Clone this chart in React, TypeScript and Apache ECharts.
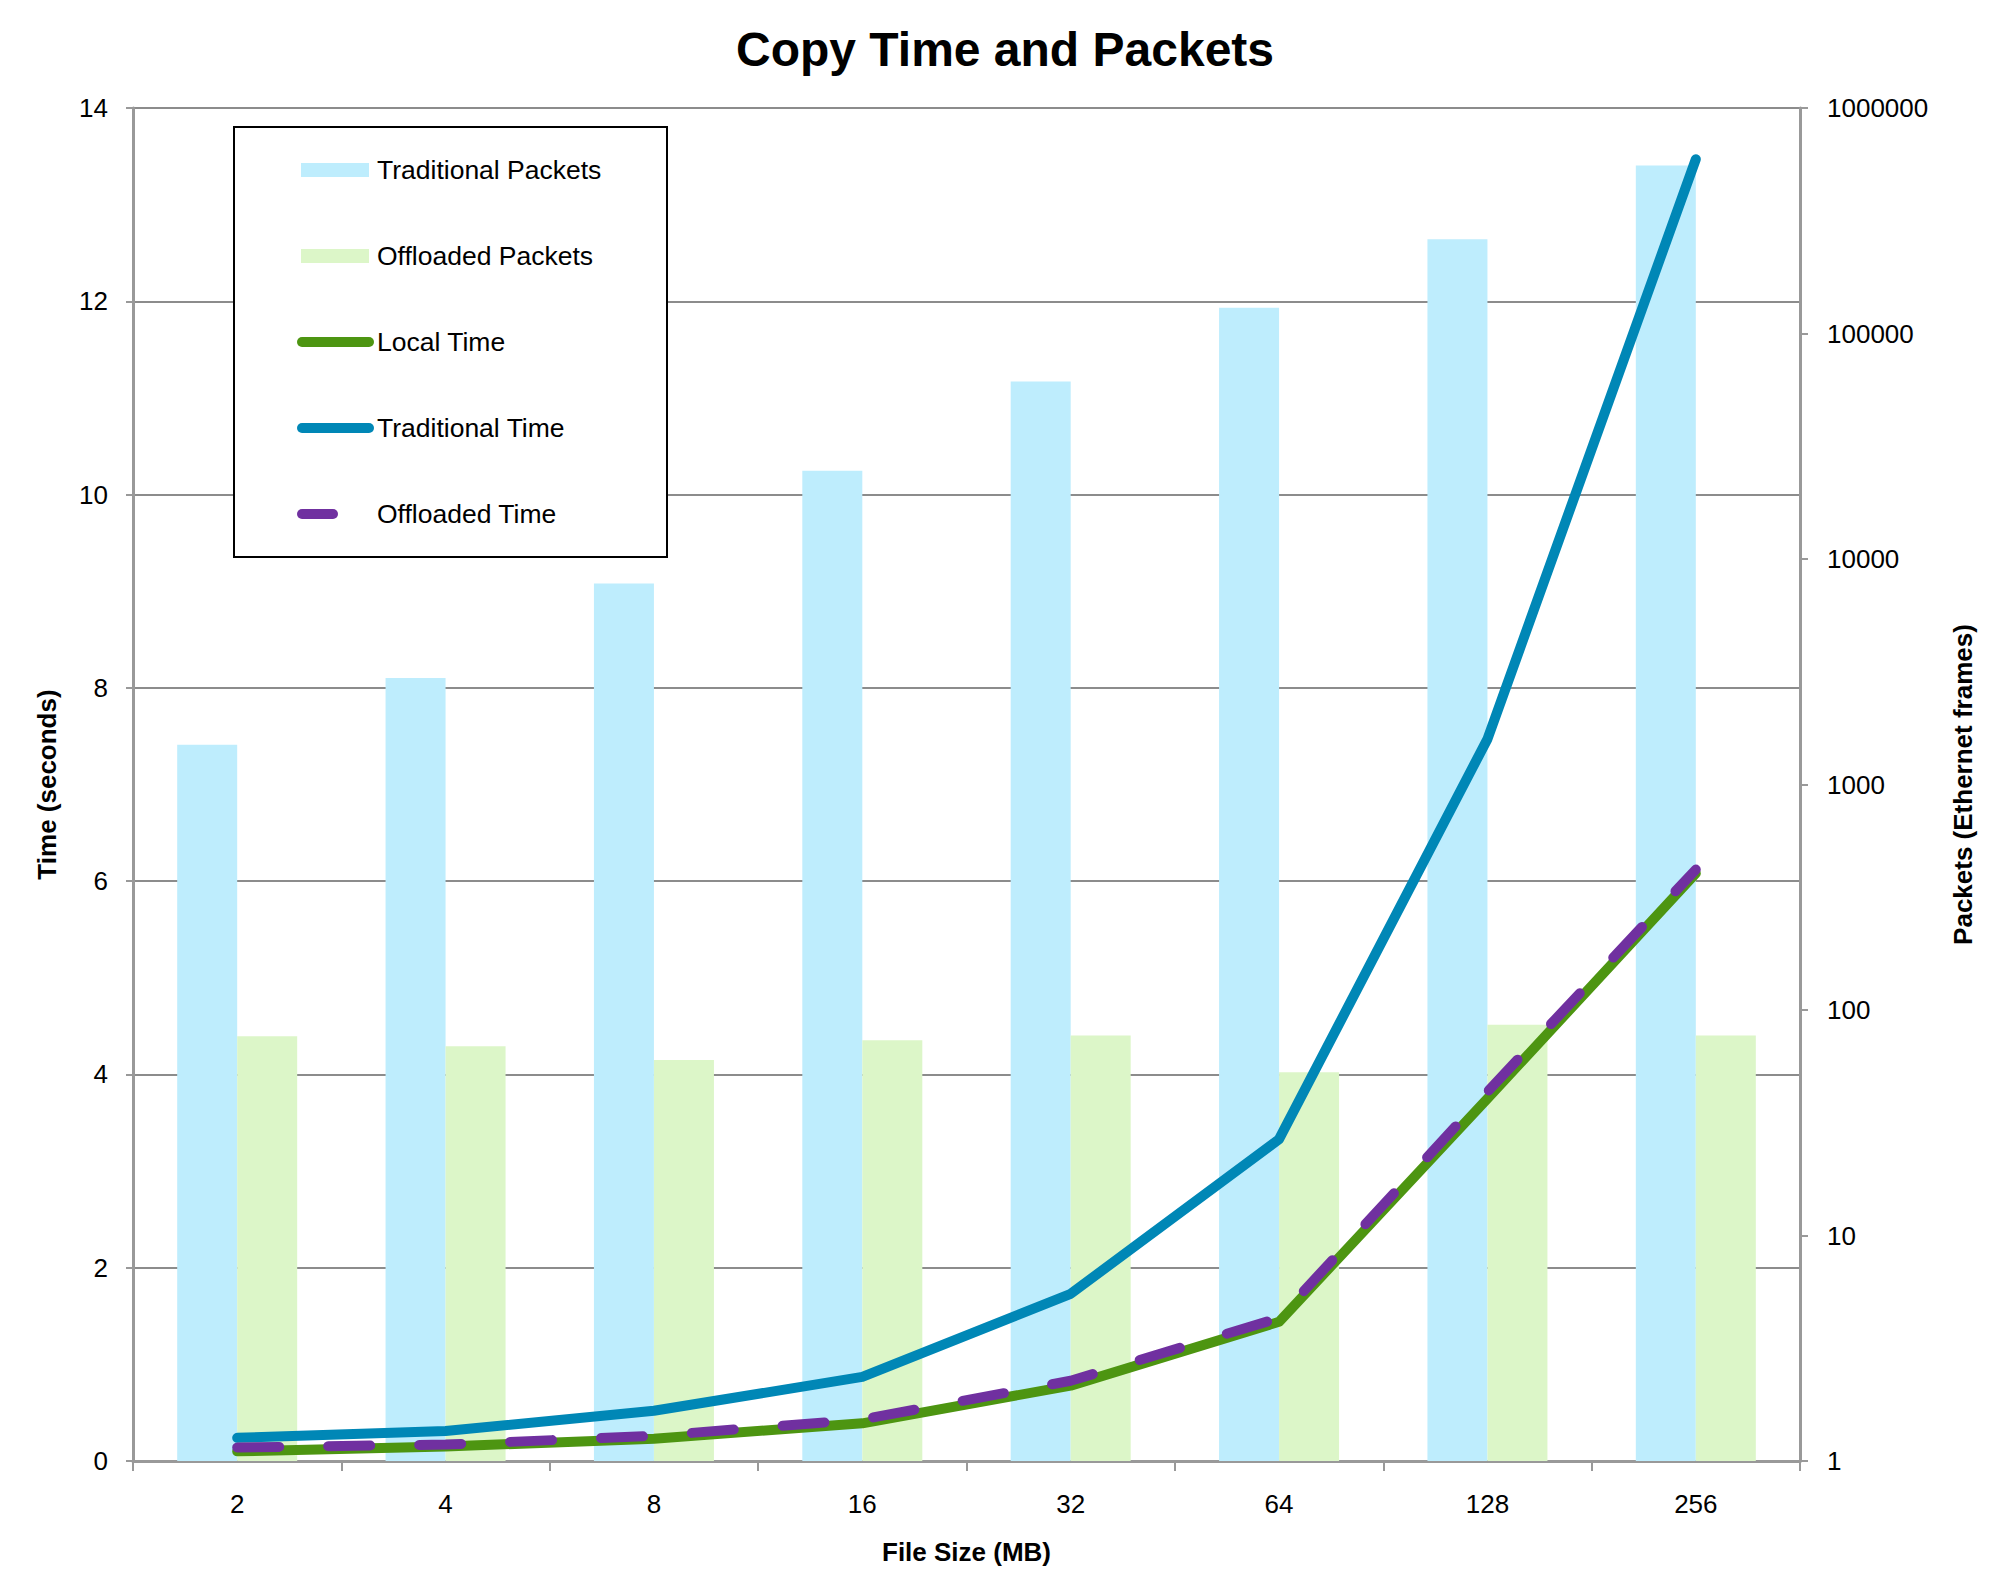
import React, { useEffect, useRef } from "react";
import * as echarts from "echarts";

const categories = ["2", "4", "8", "16", "32", "64", "128", "256"];
const traditionalPackets = [1500, 2970, 7790, 24600, 61200, 130000, 262000, 556000];
const offloadedPackets = [76.5, 69, 60, 73.5, 77, 53, 86, 77];
const localTime = [0.1, 0.15, 0.23, 0.39, 0.78, 1.44, 3.75, 6.08];
const traditionalTime = [0.24, 0.31, 0.52, 0.87, 1.73, 3.33, 7.47, 13.47];
const offloadedTime = [0.14, 0.17, 0.26, 0.43, 0.83, 1.48, 3.82, 6.12];

const seriesNames = [
  "Traditional Packets",
  "Offloaded Packets",
  "Local Time",
  "Traditional Time",
  "Offloaded Time",
];
const seriesColors = ["#BEEDFD", "#DCF6C8", "#4D9511", "#0087B6", "#7030A0"];

const FONT = "'Liberation Sans', Arial, sans-serif";

function buildLegend() {
  const children: any[] = [];
  children.push({
    type: "rect",
    shape: { x: 234, y: 127, width: 433, height: 430 },
    style: { fill: "#ffffff", stroke: "#000000", lineWidth: 2 },
    z: 100,
  });
  seriesNames.forEach((name, i) => {
    const cy = 170 + i * 86;
    if (i < 2) {
      children.push({
        type: "rect",
        shape: { x: 301, y: cy - 7, width: 68, height: 14 },
        style: { fill: seriesColors[i] },
        z: 101,
      });
    } else {
      children.push({
        type: "line",
        shape: { x1: 302, y1: cy, x2: i === 4 ? 333 : 369, y2: cy },
        style: { stroke: seriesColors[i], lineWidth: 10, lineCap: "round" },
        z: 101,
      });
    }
    children.push({
      type: "text",
      x: 377,
      y: cy,
      style: {
        text: name,
        fill: "#000",
        font: `26.5px ${FONT}`,
        verticalAlign: "middle",
        align: "left",
      },
      z: 101,
    });
  });
  return children;
}

export default function App() {
  const ref = useRef<HTMLDivElement>(null);
  useEffect(() => {
    if (!ref.current) return;
    const chart = echarts.init(ref.current, undefined, { renderer: "svg" });
    const axisLabelStyle = { color: "#000", fontSize: 26, fontFamily: FONT };
    const nameStyle = { color: "#000", fontSize: 26, fontWeight: "bold" as const, fontFamily: FONT };
    chart.setOption({
      animation: false,
      backgroundColor: "#ffffff",
      title: {
        text: "Copy Time and Packets",
        left: "center",
        top: 20,
        textStyle: { color: "#000", fontSize: 48, fontWeight: "bold", fontFamily: FONT },
      },
      grid: { left: 133, right: 210, top: 108, bottom: 101, containLabel: false },
      xAxis: {
        type: "category",
        data: categories,
        boundaryGap: true,
        name: "File Size (MB)",
        nameLocation: "middle",
        nameGap: 78,
        nameTextStyle: nameStyle,
        axisLine: { show: true, lineStyle: { color: "#999999", width: 3 } },
        axisTick: { show: true, length: 10, lineStyle: { color: "#999999", width: 2 } },
        axisLabel: { ...axisLabelStyle, margin: 30 },
        splitLine: { show: false },
      },
      yAxis: [
        {
          type: "value",
          min: 0,
          max: 14,
          interval: 2,
          position: "left",
          name: "Time (seconds)",
          nameLocation: "middle",
          nameGap: 73,
          nameTextStyle: nameStyle,
          axisLine: { show: true, lineStyle: { color: "#999999", width: 3 } },
          axisTick: { show: true, length: 7, lineStyle: { color: "#999999", width: 2 } },
          axisLabel: { ...axisLabelStyle, margin: 25 },
          splitLine: { show: true, lineStyle: { color: "#8c8c8c", width: 2 } },
        },
        {
          type: "log",
          logBase: 10,
          min: 1,
          max: 1000000,
          position: "right",
          name: "Packets (Ethernet frames)",
          nameLocation: "middle",
          nameGap: 150,
          nameTextStyle: nameStyle,
          axisLine: { show: true, lineStyle: { color: "#999999", width: 3 } },
          axisTick: { show: true, length: 8, lineStyle: { color: "#999999", width: 2 } },
          axisLabel: { ...axisLabelStyle, margin: 27, formatter: (v: number) => String(Math.round(v)) },
          splitLine: { show: false },
          minorTick: { show: false },
        },
      ],
      series: [
        {
          name: seriesNames[0],
          type: "bar",
          yAxisIndex: 1,
          data: traditionalPackets,
          barWidth: 60,
          barGap: "0%",
          itemStyle: { color: seriesColors[0] },
          z: 1,
        },
        {
          name: seriesNames[1],
          type: "bar",
          yAxisIndex: 1,
          data: offloadedPackets,
          barWidth: 60,
          barGap: "0%",
          itemStyle: { color: seriesColors[1] },
          z: 1,
        },
        {
          name: seriesNames[2],
          type: "line",
          yAxisIndex: 0,
          data: localTime,
          symbol: "none",
          lineStyle: { color: seriesColors[2], width: 10, cap: "round", join: "round" },
          z: 3,
        },
        {
          name: seriesNames[3],
          type: "line",
          yAxisIndex: 0,
          data: traditionalTime,
          symbol: "none",
          lineStyle: { color: seriesColors[3], width: 10, cap: "round", join: "round" },
          z: 4,
        },
        {
          name: seriesNames[4],
          type: "line",
          yAxisIndex: 0,
          data: offloadedTime,
          symbol: "none",
          lineStyle: { color: seriesColors[4], width: 10, type: [42, 49], cap: "round", join: "round" },
          z: 5,
        },
      ],
      graphic: buildLegend(),
    });
    return () => chart.dispose();
  }, []);
  return (
    <div
      ref={ref}
      style={{ position: "absolute", left: 0, top: 0, width: 2010, height: 1570, background: "#fff" }}
    />
  );
}
